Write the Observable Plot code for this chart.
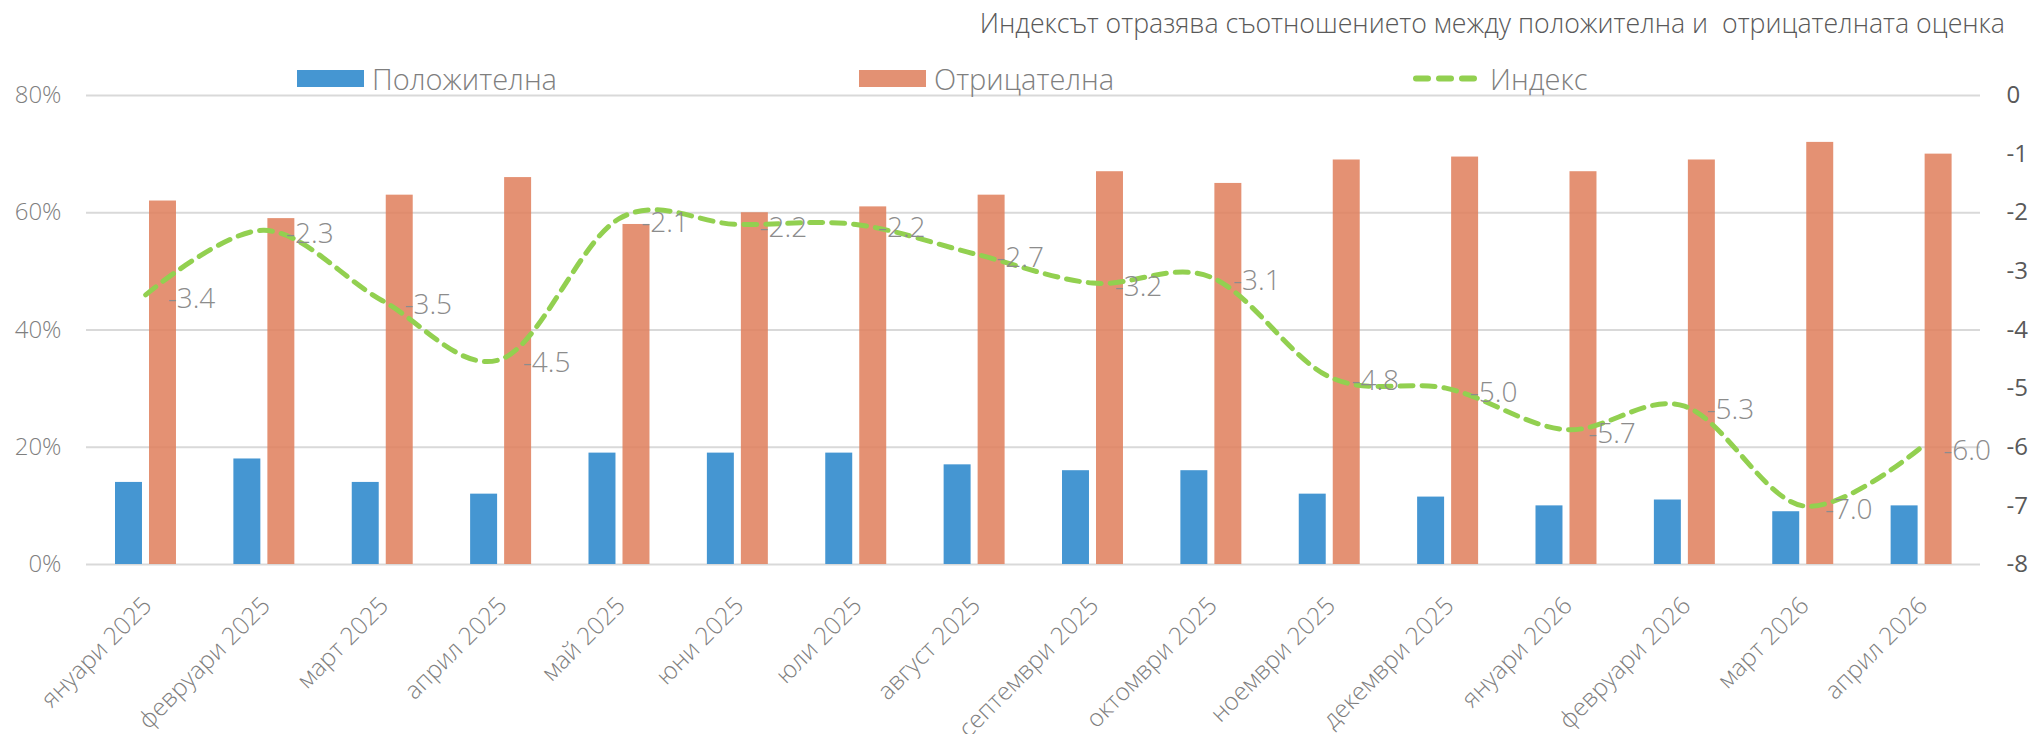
<!DOCTYPE html>
<html>
<head>
<meta charset="utf-8">
<script src="https://cdn.jsdelivr.net/npm/d3@7"></script>
<script src="https://cdn.jsdelivr.net/npm/@observablehq/plot@0.6"></script>
<style>
  html, body { margin: 0; padding: 0; background: #fff; overflow: hidden; }
  body { width: 2031px; height: 734px; font-family: "Open Sans", sans-serif; font-weight: 300; }
  #header { position: relative; width: 2031px; height: 85px; }
  #title { position: absolute; right: 26px; top: 4px; font-size: 26.7px; line-height: 38px; color: #595959; white-space: pre; }
  .leg { position: absolute; top: 59px; height: 38px; display: flex; align-items: center; font-size: 29px; color: #7f7f7f; white-space: nowrap; }
  .sw { width: 67px; height: 17px; margin-right: 8px; }
  #chart svg { display: block; overflow: visible; }
</style>
</head>
<body>
<div id="header">
  <div id="title">Индексът отразява съотношението между положителна и  отрицателната оценка</div>
  <div class="leg" style="left:297px"><div class="sw" style="background:#4596D2"></div>Положителна</div>
  <div class="leg" style="left:859px"><div class="sw" style="background:#E39173"></div>Отрицателна</div>
  <div class="leg" style="left:1412px"><svg width="75" height="17" style="margin-right:3px"><line x1="4" y1="8.5" x2="68" y2="8.5" stroke="#92D050" stroke-width="6" stroke-linecap="round" stroke-dasharray="12 11"></line></svg>Индекс</div>
</div>
<div id="chart"></div>
<script>
const months = ["януари 2025","февруари 2025","март 2025","април 2025","май 2025","юни 2025","юли 2025","август 2025","септември 2025","октомври 2025","ноември 2025","декември 2025","януари 2026","февруари 2026","март 2026","април 2026"];
const positive = [14, 18, 14, 12, 19, 19, 19, 17, 16, 16, 12, 11.5, 10, 11, 9, 10];
const negative = [62, 59, 63, 66, 58, 60, 61, 63, 67, 65, 69, 69.5, 67, 69, 72, 70];
const indexVals = [-3.4, -2.3, -3.5, -4.5, -2.1, -2.2, -2.2, -2.7, -3.2, -3.1, -4.8, -5.0, -5.7, -5.3, -7.0, -6.0];
const leftTicks = [0, 20, 40, 60, 80];
const rightTicks = [0, -1, -2, -3, -4, -5, -6, -7, -8];

// right axis maps index domain [-8, 0] onto the percentage domain [0, 80]
const toLeft = v => (v + 8) * 10;

const rows = months.map((m, i) => ({month: m, pos: positive[i], neg: negative[i], idx: indexVals[i], idxY: toLeft(indexVals[i])}));

const chart = Plot.plot({
  width: 2031,
  height: 649,
  marginTop: 10,
  marginLeft: 86,
  marginRight: 51,
  marginBottom: 170,
  style: {fontFamily: "'Open Sans', sans-serif", fontWeight: 300, background: "#fff", overflow: "visible"},
  x: {type: "band", domain: months, padding: 0, round: false, label: null},
  y: {domain: [0, 80], label: null},
  marks: [
    Plot.ruleY(leftTicks, {stroke: "#d9d9d9", strokeWidth: 2}),
    Plot.barY(rows, {x: "month", y: "pos", fill: "#4596D2", insetLeft: 29, insetRight: 62.4}),
    Plot.barY(rows, {x: "month", y: "neg", fill: "#DF7F5C", fillOpacity: 0.86, insetLeft: 63, insetRight: 28.4}),
    Plot.line(rows, {x: "month", y: "idxY", stroke: "#92D050", strokeWidth: 5, strokeDasharray: "13 9", strokeLinecap: "round", curve: "cardinal"}),
    Plot.text(rows, {x: "month", y: "idxY", text: d => d.idx.toFixed(1), dx: 22, dy: 4, textAnchor: "start", fontSize: 28, fill: "#8c8c8c", fontWeight: 300}),
    Plot.axisY(leftTicks, {anchor: "left", tickSize: 0, tickPadding: 25, tickFormat: d => d + "%", fontSize: 24, color: "#7f7f7f", label: null}),
    Plot.axisY(rightTicks.map(toLeft), {anchor: "right", tickSize: 0, tickPadding: 26, tickFormat: d => String(d / 10 - 8), fontSize: 24, color: "#595959", fontWeight: 400, label: null}),
    Plot.axisX({anchor: "bottom", tickSize: 0, tickPadding: 37, tickRotate: -45, dx: 2, fontSize: 24.5, color: "#7f7f7f", label: null})
  ]
});
document.getElementById("chart").appendChild(chart);
</script>
</body>
</html>
